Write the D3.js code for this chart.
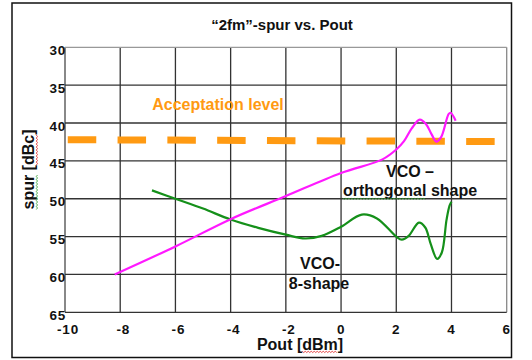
<!DOCTYPE html>
<html>
<head>
<meta charset="utf-8">
<script src="https://cdn.jsdelivr.net/npm/d3@7/dist/d3.min.js"></script>
<style>
    body { margin: 0; background: #fff; }
    text { font-family: "Liberation Sans", Arial, sans-serif; font-weight: bold; }
</style>
</head>
<body>
<svg id="chart" width="532" height="360"></svg>
<script>
// axis ticks
var x_ticks = [-10, -8, -6, -4, -2, 0, 2, 4, 6];
var y_ticks = [30, 35, 40, 45, 50, 55, 60, 65];

// VCO - orthogonal shape (magenta)
var ortho_pout = [-8.2, -6, -4, -2, 0, 1.5, 2, 2.28, 2.56, 2.85, 3.08, 3.28, 3.45, 3.62, 3.9, 3.97, 4.15];
var ortho_spur = [60.0, 56.3, 52.7, 49.65, 46.6, 44.8, 43.5, 42.4, 40.7, 39.55, 40.15, 41.5, 42.45, 41.9, 38.8, 38.65, 39.7];

// VCO - 8-shape (green)
var eight_pout = [-6.85, -6, -5, -4, -3, -2, -1.3, -0.7, 0, 0.75, 1.3, 2, 2.2, 2.45, 2.82, 3.05, 3.25, 3.48, 3.65, 3.82, 3.93, 4.0];
var eight_spur = [48.9, 50.0, 51.3, 52.75, 53.85, 54.75, 55.25, 54.9, 53.7, 52.1, 52.6, 55.0, 55.4, 54.9, 53.15, 53.8, 56.0, 57.95, 57.1, 52.8, 50.9, 50.4];

// acceptation level (orange dashed)
var accept_pout = [-9.9, 5.6];
var accept_spur = [42.2, 42.45];

var svg = d3.select('#chart');

var x = d3.scaleLinear().domain([-10, 6]).range([65, 506.7]);
var y = d3.scaleLinear().domain([30, 65]).range([47.3, 312.3]);

//外框
svg.append('rect')
    .attr('x', 12)
    .attr('y', 3)
    .attr('width', 499.5)
    .attr('height', 354.5)
    .attr('fill', 'none')
    .attr('stroke', '#111')
    .attr('stroke-width', 1.5);

var plot = svg.append('g');

//网格线
plot.selectAll('.vgrid')
    .data(x_ticks)
    .enter()
    .append('line')
    .attr('class', 'vgrid')
    .attr('x1', function(d) { return x(d); })
    .attr('x2', function(d) { return x(d); })
    .attr('y1', y(30))
    .attr('y2', y(65))
    .attr('stroke', function(d, i) {
        return (i == 0 || i == x_ticks.length - 1) ? '#888' : '#333';
    })
    .attr('stroke-width', function(d, i) {
        return (i == 0) ? 2 : 1.3;
    });

plot.selectAll('.hgrid')
    .data(y_ticks)
    .enter()
    .append('line')
    .attr('class', 'hgrid')
    .attr('x1', x(-10))
    .attr('x2', x(6))
    .attr('y1', function(d) { return y(d); })
    .attr('y2', function(d) { return y(d); })
    .attr('stroke', function(d, i) {
        return (i == 0) ? '#999' : '#333';
    })
    .attr('stroke-width', 1.3);

//刻度文字
plot.selectAll('.ylab')
    .data(y_ticks)
    .enter()
    .append('text')
    .attr('class', 'ylab')
    .attr('x', x(-10) + 1)
    .attr('y', function(d) { return y(d) + 3; })
    .attr('text-anchor', 'end')
    .attr('dominant-baseline', 'central')
    .attr('font-size', 13.5)
    .attr('letter-spacing', 0.8)
    .attr('fill', '#111')
    .text(function(d) { return d; });

plot.selectAll('.xlab')
    .data(x_ticks)
    .enter()
    .append('text')
    .attr('class', 'xlab')
    .attr('x', function(d) { return x(d) + (d < 0 ? 3 : 0); })
    .attr('y', 329)
    .attr('text-anchor', 'middle')
    .attr('dominant-baseline', 'central')
    .attr('font-size', 13.5)
    .attr('letter-spacing', 0.8)
    .attr('fill', '#111')
    .text(function(d) { return d; });

//数据线
function pairs(xs, ys) {
    return xs.map(function(d, i) { return [d, ys[i]]; });
}

var line = d3.line()
    .x(function(d) { return x(d[0]); })
    .y(function(d) { return y(d[1]); })
    .curve(d3.curveCatmullRom.alpha(0.5));

plot.append('path')
    .datum(pairs(accept_pout, accept_spur))
    .attr('d', d3.line().x(function(d) { return x(d[0]); }).y(function(d) { return y(d[1]); }))
    .attr('fill', 'none')
    .attr('stroke', '#ff9a12')
    .attr('stroke-width', 7)
    .attr('stroke-dasharray', '28.5 21.3');

plot.append('path')
    .datum(pairs(eight_pout, eight_spur))
    .attr('d', line)
    .attr('fill', 'none')
    .attr('stroke', '#15901a')
    .attr('stroke-width', 2.2);

plot.append('path')
    .datum(pairs(ortho_pout, ortho_spur))
    .attr('d', line)
    .attr('fill', 'none')
    .attr('stroke', '#ff19ff')
    .attr('stroke-width', 2.2);

//波浪下划线 (拼写检查的标记)
function squiggle(g, textNode, from, to, dy, color) {
    var total = textNode.getComputedTextLength();
    var x0 = -total / 2 + textNode.getSubStringLength(0, from);
    var len = textNode.getSubStringLength(from, to - from);
    var pts = [];
    for (var k = 0; k * 1.5 <= len; k++) {
        pts.push([x0 + k * 1.5, dy + (k % 2 ? 1 : -0.2)]);
    }
    g.append('path')
        .attr('d', d3.line()(pts))
        .attr('fill', 'none')
        .attr('stroke', color)
        .attr('stroke-width', 0.8);
}

//标题和轴名
svg.append('text')
    .attr('x', 282)
    .attr('y', 24)
    .attr('text-anchor', 'middle')
    .attr('dominant-baseline', 'central')
    .attr('font-size', 15)
    .attr('fill', '#111')
    .text('\u201c2fm\u201d-spur vs. Pout');

var xtitle_g = svg.append('g').attr('transform', 'translate(300,344)');
var xtitle = xtitle_g.append('text')
    .attr('text-anchor', 'middle')
    .attr('dominant-baseline', 'central')
    .attr('font-size', 16)
    .attr('fill', '#111')
    .text('Pout [dBm]');
squiggle(xtitle_g, xtitle.node(), 6, 9, 7.5, '#e02020');

var ytitle_g = svg.append('g').attr('transform', 'translate(28.5,169.5) rotate(-90)');
var ytitle = ytitle_g.append('text')
    .attr('text-anchor', 'middle')
    .attr('dominant-baseline', 'central')
    .attr('font-size', 16)
    .attr('fill', '#111')
    .text('spur [dBc]');
squiggle(ytitle_g, ytitle.node(), 0, 4, 8, '#2a9a2a');
squiggle(ytitle_g, ytitle.node(), 6, 9, 8, '#e02020');

//注释文字
svg.append('text')
    .attr('x', 218)
    .attr('y', 104)
    .attr('text-anchor', 'middle')
    .attr('dominant-baseline', 'central')
    .attr('font-size', 16)
    .attr('fill', '#ff9a12')
    .text('Acceptation level');

var notes = [
    {t: 'VCO \u2013', cx: 410, cy: 171.5},
    {t: 'orthogonal shape', cx: 410, cy: 190.4},
    {t: 'VCO-', cx: 320, cy: 263.5},
    {t: '8-shape', cx: 319, cy: 283}
];
var note_g = svg.selectAll('.note')
    .data(notes)
    .enter()
    .append('g')
    .attr('class', 'note')
    .attr('transform', function(d) { return 'translate(' + d.cx + ',' + d.cy + ')'; });
note_g.append('text')
    .attr('text-anchor', 'middle')
    .attr('dominant-baseline', 'central')
    .attr('font-size', 16)
    .attr('fill', '#111')
    .text(function(d) { return d.t; });
note_g.filter(function(d, i) { return i == 1; })
    .each(function() {
        var g = d3.select(this);
        squiggle(g, g.select('text').node(), 0, 10, 8, '#2a9a2a');
    });
</script>
</body>
</html>
